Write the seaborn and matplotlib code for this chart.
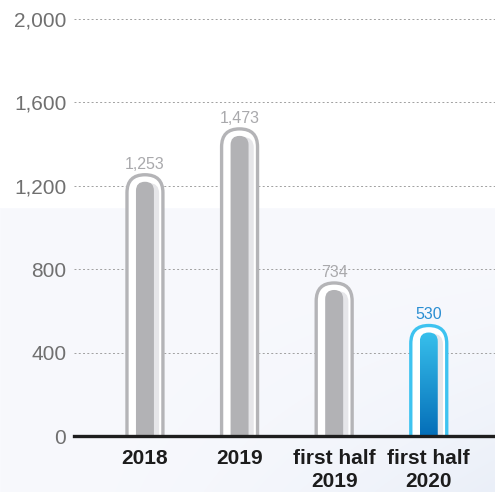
import numpy as np
import matplotlib
matplotlib.use("Agg")
import matplotlib.pyplot as plt
import seaborn as sns
from matplotlib.patches import FancyBboxPatch

categories = ["2018", "2019", "first half\n2019", "first half\n2020"]
values = [1253, 1473, 734, 530]
value_labels = ["1,253", "1,473", "734", "530"]
yticks = [0, 400, 800, 1200, 1600, 2000]
ytick_labels = ["0", "400", "800", "1,200", "1,600", "2,000"]

sns.set_style("white")
plt.rcParams["font.family"] = ["Liberation Sans", "DejaVu Sans"]

W, H = 495, 492
fig = plt.figure(figsize=(W / 100, H / 100), dpi=100)
fig.patch.set_facecolor("white")

# background
bg = fig.add_axes([0, 0, 1, 1], zorder=-5)
yy, xx = np.mgrid[0:H, 0:W]
img = np.ones((H, W, 3))
base = np.array([248, 249, 253]) / 255.0
blue = np.array([234, 239, 248]) / 255.0
mask = yy >= 208
t = np.clip((xx / W) * ((yy - 208) / (H - 208)), 0, 1) ** 1.8
for c in range(3):
    ch = base[c] * (1 - t) + blue[c] * t
    img[..., c] = np.where(mask, ch, 1.0)
bg.imshow(img, extent=[0, 1, 0, 1], aspect="auto", origin="upper")
bg.axis("off")

ax_l, ax_b, ax_w, ax_h = 74 / W, 56 / H, 421 / W, 417 / H
ax = fig.add_axes([ax_l, ax_b, ax_w, ax_h])
ax.set_facecolor("none")

xlim = (-0.75, 3.70)
ylim = (0, 2000)
px_x = ax_w * W / (xlim[1] - xlim[0])
px_y = ax_h * H / (ylim[1] - ylim[0])
asp = px_x / px_y

# outer capsules
sns.barplot(x=categories, y=values, color="white", width=0.38, ax=ax)
outer = list(ax.patches)
# inner bars
sns.barplot(x=categories, y=values, color="#b2b2b5", width=0.19, ax=ax)
inner = [p for p in ax.patches if p not in outer]

edge_cols = ["#b4b4b7", "#b4b4b7", "#b4b4b7", "#3ec3f0"]
gap_units = 7 / px_y
for p, ec in zip(outer, edge_cols):
    x0, w, h = p.get_x(), p.get_width(), p.get_height()
    p.remove()
    fb = FancyBboxPatch((x0, -300), w, h + 300,
                        boxstyle=f"round,pad=0,rounding_size={w/2}",
                        mutation_aspect=asp, fc="white", ec=ec, lw=2.4, zorder=2)
    ax.add_patch(fb)

for i, p in enumerate(inner):
    x0, w, h = p.get_x(), p.get_width(), p.get_height() - gap_units
    p.remove()
    # shadow
    sh = FancyBboxPatch((x0 + 0.025, -300), w + 0.03, h + 300 - 6,
                        boxstyle=f"round,pad=0,rounding_size={(w+0.03)/2}",
                        mutation_aspect=asp, fc="#e6e6e9", ec="none", zorder=3)
    ax.add_patch(sh)
    if i < 3:
        fb = FancyBboxPatch((x0, -300), w, h + 300,
                            boxstyle=f"round,pad=0,rounding_size={w/2}",
                            mutation_aspect=asp, fc="#b2b2b5", ec="none", zorder=4)
        ax.add_patch(fb)
    else:
        fb = FancyBboxPatch((x0, -300), w, h + 300,
                            boxstyle=f"round,pad=0,rounding_size={w/2}",
                            mutation_aspect=asp, fc="none", ec="none", zorder=4)
        ax.add_patch(fb)
        grad = np.linspace(0, 1, 256).reshape(-1, 1)
        top = np.array([0x38, 0xc0, 0xec]) / 255.0
        bot = np.array([0x04, 0x6e, 0xb8]) / 255.0
        gimg = top[None, None, :] * (1 - grad[..., None]) + bot[None, None, :] * grad[..., None]
        im = ax.imshow(gimg, extent=[x0, x0 + w, 0, h], aspect="auto",
                       origin="upper", zorder=4)
        im.set_clip_path(fb)

label_cols = ["#a9a9ac", "#a9a9ac", "#a9a9ac", "#2a8ed2"]
for i, (v, lab) in enumerate(zip(values, value_labels)):
    ax.text(i, v + 6.0 / px_y, lab, ha="center", va="baseline",
            fontsize=11.5, color=label_cols[i], zorder=6)

ax.set_xlim(*xlim)
ax.set_ylim(*ylim)
ax.set_yticks(yticks)
ax.set_yticklabels(ytick_labels)
ax.yaxis.grid(True, linestyle=(0, (2.0, 2.4)), color="#a0a0a0", linewidth=0.7)
ax.set_axisbelow(True)
ax.tick_params(axis="y", length=0, pad=5.5, labelsize=15, labelcolor="#707070")
ax.tick_params(axis="x", length=0, pad=9.5, labelsize=15, labelcolor="#1c1c1c")
for t in ax.get_xticklabels():
    t.set_fontweight("bold")
    t.set_linespacing(1.28)
for s in ["top", "right", "left"]:
    ax.spines[s].set_visible(False)
ax.spines["bottom"].set_color("#1e1e1e")
ax.spines["bottom"].set_linewidth(2.4)
ax.spines["bottom"].set_zorder(7)
ax.set_xlabel("")
ax.set_ylabel("")

fig.savefig("out.png", dpi=100)
